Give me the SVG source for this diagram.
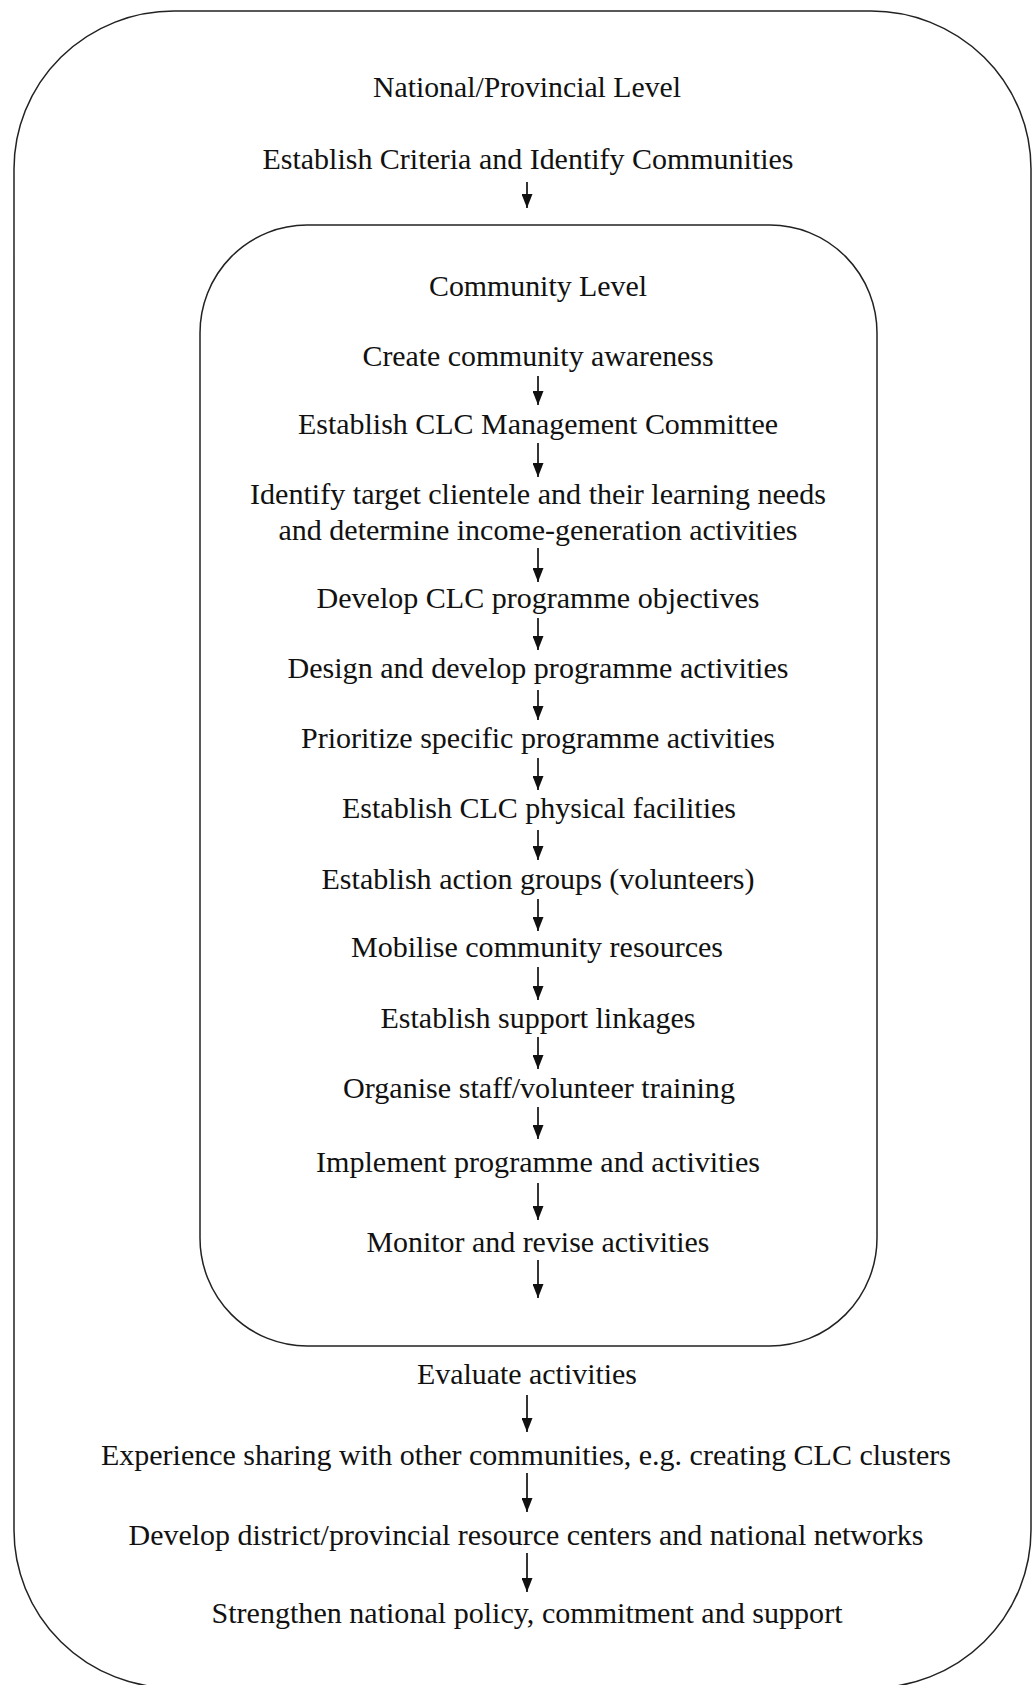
<svg xmlns="http://www.w3.org/2000/svg" width="1033" height="1685" viewBox="0 0 1033 1685">
  <style>
    .frame { fill: none; stroke: #222; stroke-width: 1.5; }
    .label { font-family: "Liberation Serif", "Times New Roman", serif; font-size: 30px; fill: #111; text-anchor: middle; }
    .flow { fill: none; stroke: #111; stroke-width: 1.7; marker-end: url(#head); }
  </style>
  <defs>
    <marker id="head" viewBox="0 0 14 11" refX="14" refY="5.5" markerWidth="14" markerHeight="11" markerUnits="userSpaceOnUse" orient="auto">
      <path d="M0,0 L14,5.5 L0,11 z" fill="#111"/>
    </marker>
  </defs>
  <rect width="1033" height="1685" fill="#fff"/>

  <!-- National / provincial level container -->
  <g id="national-level">
    <rect class="frame" x="14" y="11" width="1017" height="1677" rx="160" ry="158"/>
    <text class="label" x="527" y="97" textLength="308" lengthAdjust="spacingAndGlyphs">National/Provincial Level</text>
  </g>
  <g id="establish-criteria">
    <text class="label" x="528" y="169" textLength="531" lengthAdjust="spacingAndGlyphs">Establish Criteria and Identify Communities</text>
  </g>

  <!-- Community level container -->
  <g id="community-level">
    <rect class="frame" x="200" y="225" width="677" height="1121" rx="107" ry="108"/>
    <text class="label" x="538" y="296" textLength="218" lengthAdjust="spacingAndGlyphs">Community Level</text>
  </g>
  <g id="step-awareness"><text class="label" x="538" y="366" textLength="351" lengthAdjust="spacingAndGlyphs">Create community awareness</text></g>
  <g id="step-committee"><text class="label" x="538" y="434" textLength="480" lengthAdjust="spacingAndGlyphs">Establish CLC Management Committee</text></g>
  <g id="step-clientele">
    <text class="label" x="538" y="504" textLength="576" lengthAdjust="spacingAndGlyphs">Identify target clientele and their learning needs</text>
    <text class="label" x="538" y="540" textLength="519" lengthAdjust="spacingAndGlyphs">and determine income-generation activities</text>
  </g>
  <g id="step-objectives"><text class="label" x="538" y="608" textLength="443" lengthAdjust="spacingAndGlyphs">Develop CLC programme objectives</text></g>
  <g id="step-design"><text class="label" x="538" y="678" textLength="501" lengthAdjust="spacingAndGlyphs">Design and develop programme activities</text></g>
  <g id="step-prioritize"><text class="label" x="538" y="748" textLength="474" lengthAdjust="spacingAndGlyphs">Prioritize specific programme activities</text></g>
  <g id="step-facilities"><text class="label" x="539" y="818" textLength="394" lengthAdjust="spacingAndGlyphs">Establish CLC physical facilities</text></g>
  <g id="step-action-groups"><text class="label" x="538" y="889" textLength="433" lengthAdjust="spacingAndGlyphs">Establish action groups (volunteers)</text></g>
  <g id="step-resources"><text class="label" x="537" y="957" textLength="372" lengthAdjust="spacingAndGlyphs">Mobilise community resources</text></g>
  <g id="step-linkages"><text class="label" x="538" y="1028" textLength="315" lengthAdjust="spacingAndGlyphs">Establish support linkages</text></g>
  <g id="step-training"><text class="label" x="539" y="1098" textLength="392" lengthAdjust="spacingAndGlyphs">Organise staff/volunteer training</text></g>
  <g id="step-implement"><text class="label" x="538" y="1172" textLength="444" lengthAdjust="spacingAndGlyphs">Implement programme and activities</text></g>
  <g id="step-monitor"><text class="label" x="538" y="1252" textLength="343" lengthAdjust="spacingAndGlyphs">Monitor and revise activities</text></g>

  <!-- Back at national / provincial level -->
  <g id="step-evaluate"><text class="label" x="527" y="1384" textLength="220" lengthAdjust="spacingAndGlyphs">Evaluate activities</text></g>
  <g id="step-sharing"><text class="label" x="526" y="1465" textLength="850" lengthAdjust="spacingAndGlyphs">Experience sharing with other communities, e.g. creating CLC clusters</text></g>
  <g id="step-networks"><text class="label" x="526" y="1545" textLength="795" lengthAdjust="spacingAndGlyphs">Develop district/provincial resource centers and national networks</text></g>
  <g id="step-policy"><text class="label" x="527" y="1623" textLength="631" lengthAdjust="spacingAndGlyphs">Strengthen national policy, commitment and support</text></g>

  <!-- Downward flow arrows -->
  <g id="connectors">
    <path class="flow" d="M527,182 V208"/>
    <path class="flow" d="M538,376 V405"/>
    <path class="flow" d="M538,443 V477"/>
    <path class="flow" d="M538,548 V582"/>
    <path class="flow" d="M538,618 V650"/>
    <path class="flow" d="M538,690 V720"/>
    <path class="flow" d="M538,758 V790"/>
    <path class="flow" d="M538,830 V860"/>
    <path class="flow" d="M538,899 V931"/>
    <path class="flow" d="M538,967 V1000"/>
    <path class="flow" d="M538,1037 V1069"/>
    <path class="flow" d="M538,1107 V1139"/>
    <path class="flow" d="M538,1183 V1220"/>
    <path class="flow" d="M538,1260 V1298"/>
    <path class="flow" d="M527,1395 V1432"/>
    <path class="flow" d="M527,1473 V1512"/>
    <path class="flow" d="M527,1553 V1592"/>
  </g>
</svg>
